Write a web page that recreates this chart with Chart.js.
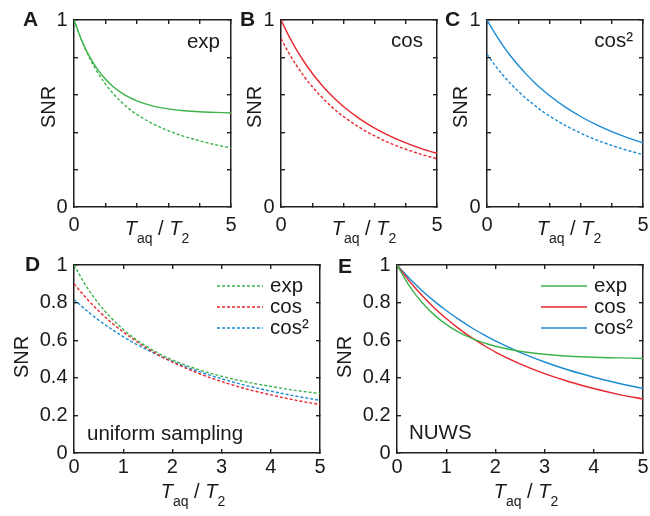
<!DOCTYPE html>
<html><head><meta charset="utf-8">
<script src="https://cdn.jsdelivr.net/npm/chart.js@4.4.0/dist/chart.umd.min.js"></script>
<style>
html,body{margin:0;padding:0;background:#fff;}
body{width:650px;height:516px;position:relative;overflow:hidden;}
canvas{position:absolute;}
</style></head><body>
<canvas id="cA" width="240" height="258" style="left:0px;top:0px;width:240px;height:258px"></canvas>
<canvas id="cB" width="240" height="258" style="left:207px;top:0px;width:240px;height:258px"></canvas>
<canvas id="cC" width="237" height="258" style="left:413px;top:0px;width:237px;height:258px"></canvas>
<canvas id="cD" width="330" height="266" style="left:0px;top:250px;width:330px;height:266px"></canvas>
<canvas id="cE" width="327" height="266" style="left:323px;top:250px;width:327px;height:266px"></canvas>
<script>
// ---- data ----
const tValues     = [0, 0.25, 0.5, 0.75, 1, 1.25, 1.5, 1.75, 2, 2.5, 3, 3.5, 4, 4.5, 5];
const uniformExp  = [1.000, 0.887, 0.795, 0.720, 0.658, 0.606, 0.563, 0.526, 0.495, 0.446, 0.408, 0.378, 0.354, 0.333, 0.316];
const uniformCos  = [0.900, 0.824, 0.756, 0.696, 0.644, 0.597, 0.555, 0.517, 0.484, 0.427, 0.380, 0.341, 0.309, 0.281, 0.258];
const uniformCos2 = [0.817, 0.759, 0.707, 0.661, 0.619, 0.581, 0.547, 0.515, 0.487, 0.437, 0.395, 0.359, 0.329, 0.303, 0.280];
const nuwsExp     = [1.000, 0.889, 0.803, 0.736, 0.684, 0.643, 0.612, 0.587, 0.568, 0.541, 0.525, 0.515, 0.509, 0.506, 0.503];
const nuwsCos     = [1.000, 0.915, 0.840, 0.774, 0.715, 0.663, 0.616, 0.575, 0.537, 0.474, 0.422, 0.379, 0.343, 0.312, 0.287];
const nuwsCos2    = [1.000, 0.930, 0.866, 0.809, 0.758, 0.712, 0.669, 0.631, 0.596, 0.535, 0.484, 0.440, 0.403, 0.371, 0.343];
const windowNames = ['exp', 'cos', 'cos\u00B2'];
const xTickLabels = ['0', '1', '2', '3', '4', '5'];
const yTickLabels = ['0', '0.2', '0.4', '0.6', '0.8', '1'];
const panelLetters = ['A', 'B', 'C', 'D', 'E'];
const noteUniform = 'uniform sampling';
const noteNuws = 'NUWS';
const yAxisTitle = 'SNR';

// ---- styles ----
const FONT = '"Liberation Sans", Arial, Helvetica, sans-serif';
const INK = '#1a1a1a';
const AXIS = '#231f20';
const GREEN = '#3cb44b', RED = '#e8262e', BLUE = '#1b8bd3';
const DASH = [3, 2];

function pts(arr) { return tValues.map((t, i) => ({x: t, y: arr[i]})); }
function ds(label, arr, color, dashed) {
  return {label, data: pts(arr), borderColor: color, backgroundColor: color,
    borderWidth: 1.4, borderDash: dashed ? DASH : [], pointRadius: 0,
    cubicInterpolationMode: 'monotone', fill: false, xAxisID: 'x', yAxisID: 'y'};
}

function noPad(s) { s.paddingLeft = 0; s.paddingRight = 0; s.paddingTop = 0; s.paddingBottom = 0; }

function scales(p) {
  const grid = {drawOnChartArea: false, drawTicks: true, tickLength: -4, color: AXIS, lineWidth: 1.4};
  const border = {display: true, color: AXIS, width: 1.5};
  const tickFont = {family: FONT, size: 20};
  return {
    x: {type: 'linear', position: 'bottom', min: 0, max: 5, grid, border,
      ticks: {stepSize: 1, autoSkip: false, maxRotation: 0, padding: p.xPad, color: INK, font: tickFont,
        callback: (v, i) => (p.allLabels || i === 0 || i === 5) ? xTickLabels[i] : ''},
      afterFit: s => { s.height = p.bottom; noPad(s); }},
    x2: {type: 'linear', position: 'top', min: 0, max: 5, grid, border,
      ticks: {stepSize: 1, display: false}, afterFit: s => { s.height = p.top; noPad(s); }},
    y: {type: 'linear', position: 'left', min: 0, max: 1, grid, border,
      ticks: {stepSize: 0.2, autoSkip: false, padding: 10.5, color: INK, font: tickFont,
        callback: (v, i) => (p.allLabels || i === 0 || i === 5) ? yTickLabels[i] : ''},
      afterFit: s => { s.width = p.left; noPad(s); }},
    y2: {type: 'linear', position: 'right', min: 0, max: 1, grid, border,
      ticks: {stepSize: 0.2, display: false}, afterFit: s => { s.width = p.right; noPad(s); }}
  };
}

function drawXTitle(ctx, cx, by) {
  const parts = [
    {t: 'T', f: 'italic 20px ' + FONT, dy: 0},
    {t: 'aq', f: '14px ' + FONT, dy: 8},
    {t: ' / ', f: '20px ' + FONT, dy: 0},
    {t: 'T', f: 'italic 20px ' + FONT, dy: 0},
    {t: '2', f: '14px ' + FONT, dy: 8}
  ];
  let w = 0;
  parts.forEach(p => { ctx.font = p.f; p.w = ctx.measureText(p.t).width; w += p.w; });
  let x = cx - w / 2;
  ctx.textAlign = 'left'; ctx.textBaseline = 'alphabetic';
  parts.forEach(p => { ctx.font = p.f; ctx.fillText(p.t, x, by + p.dy); x += p.w; });
}

function textPlugin(s) {
  return {
    id: 'panelText',
    afterDraw(chart) {
      const ctx = chart.ctx;
      ctx.save();
      ctx.fillStyle = INK;
      ctx.font = 'bold 21px ' + FONT;
      ctx.textAlign = 'left'; ctx.textBaseline = 'alphabetic';
      ctx.fillText(s.letter, s.letterX, s.letterY);
      ctx.save();
      ctx.translate(s.snrX, s.snrY);
      ctx.rotate(-Math.PI / 2);
      ctx.font = '20px ' + FONT;
      ctx.textAlign = 'center'; ctx.textBaseline = 'middle';
      ctx.fillText(yAxisTitle, 0, 0);
      ctx.restore();
      drawXTitle(ctx, s.titleX, s.titleY);
      if (s.note) {
        ctx.font = '20.5px ' + FONT;
        ctx.textAlign = s.noteAlign; ctx.textBaseline = 'alphabetic';
        ctx.fillText(s.note, s.noteX, s.noteY);
      }
      if (s.legend) {
        chart.data.datasets.forEach((d, i) => {
          const y = s.legend.y0 + i * s.legend.dy;
          ctx.save();
          ctx.strokeStyle = d.borderColor; ctx.lineWidth = d.borderWidth;
          ctx.setLineDash(d.borderDash || []);
          ctx.beginPath(); ctx.moveTo(s.legend.x1, y); ctx.lineTo(s.legend.x2, y); ctx.stroke();
          ctx.restore();
          ctx.font = '20.5px ' + FONT;
          ctx.textAlign = 'left'; ctx.textBaseline = 'alphabetic';
          ctx.fillText(d.label, s.legend.tx, y + 6);
        });
      }
      ctx.restore();
    }
  };
}

function make(id, datasets, geo, spec) {
  new Chart(document.getElementById(id), {
    type: 'line',
    data: {datasets},
    options: {
      responsive: false, devicePixelRatio: 1, animation: false,
      layout: {padding: 0},
      plugins: {legend: {display: false}, tooltip: {enabled: false}},
      scales: scales(geo)
    },
    plugins: [textPlugin(spec)]
  });
}

const topGeo = (right) => ({left: 74, top: 20, right, bottom: 51, xPad: 10, allLabels: false});
make('cA', [ds(windowNames[0], nuwsExp, GREEN, false), ds(windowNames[0], uniformExp, GREEN, true)],
  topGeo(9),
  {letter: panelLetters[0], letterX: 23, letterY: 26, snrX: 49, snrY: 107, titleX: 157, titleY: 235,
   note: windowNames[0], noteAlign: 'right', noteX: 220, noteY: 48});
make('cB', [ds(windowNames[1], nuwsCos, RED, false), ds(windowNames[1], uniformCos, RED, true)],
  topGeo(10),
  {letter: panelLetters[1], letterX: 33, letterY: 26, snrX: 48, snrY: 107, titleX: 157, titleY: 235,
   note: windowNames[1], noteAlign: 'right', noteX: 216, noteY: 47});
make('cC', [ds(windowNames[2], nuwsCos2, BLUE, false), ds(windowNames[2], uniformCos2, BLUE, true)],
  topGeo(7),
  {letter: panelLetters[2], letterX: 32, letterY: 26, snrX: 48.5, snrY: 107, titleX: 156, titleY: 235,
   note: windowNames[2], noteAlign: 'right', noteX: 220, noteY: 47});

make('cD', [ds(windowNames[0], uniformExp, GREEN, true), ds(windowNames[1], uniformCos, RED, true), ds(windowNames[2], uniformCos2, BLUE, true)],
  {left: 74, top: 15, right: 10, bottom: 63, xPad: 6, allLabels: true},
  {letter: panelLetters[3], letterX: 25, letterY: 21, snrX: 22.5, snrY: 107, titleX: 193, titleY: 248,
   note: noteUniform, noteAlign: 'left', noteX: 87, noteY: 190,
   legend: {x1: 217, x2: 263, tx: 270, y0: 36, dy: 21}});
make('cE', [ds(windowNames[0], nuwsExp, GREEN, false), ds(windowNames[1], nuwsCos, RED, false), ds(windowNames[2], nuwsCos2, BLUE, false)],
  {left: 74, top: 15, right: 7, bottom: 63, xPad: 6, allLabels: true},
  {letter: panelLetters[4], letterX: 15, letterY: 23, snrX: 22, snrY: 107, titleX: 203, titleY: 248,
   note: noteNuws, noteAlign: 'left', noteX: 86, noteY: 189,
   legend: {x1: 218, x2: 264, tx: 271, y0: 36, dy: 21}});
</script>
</body></html>
